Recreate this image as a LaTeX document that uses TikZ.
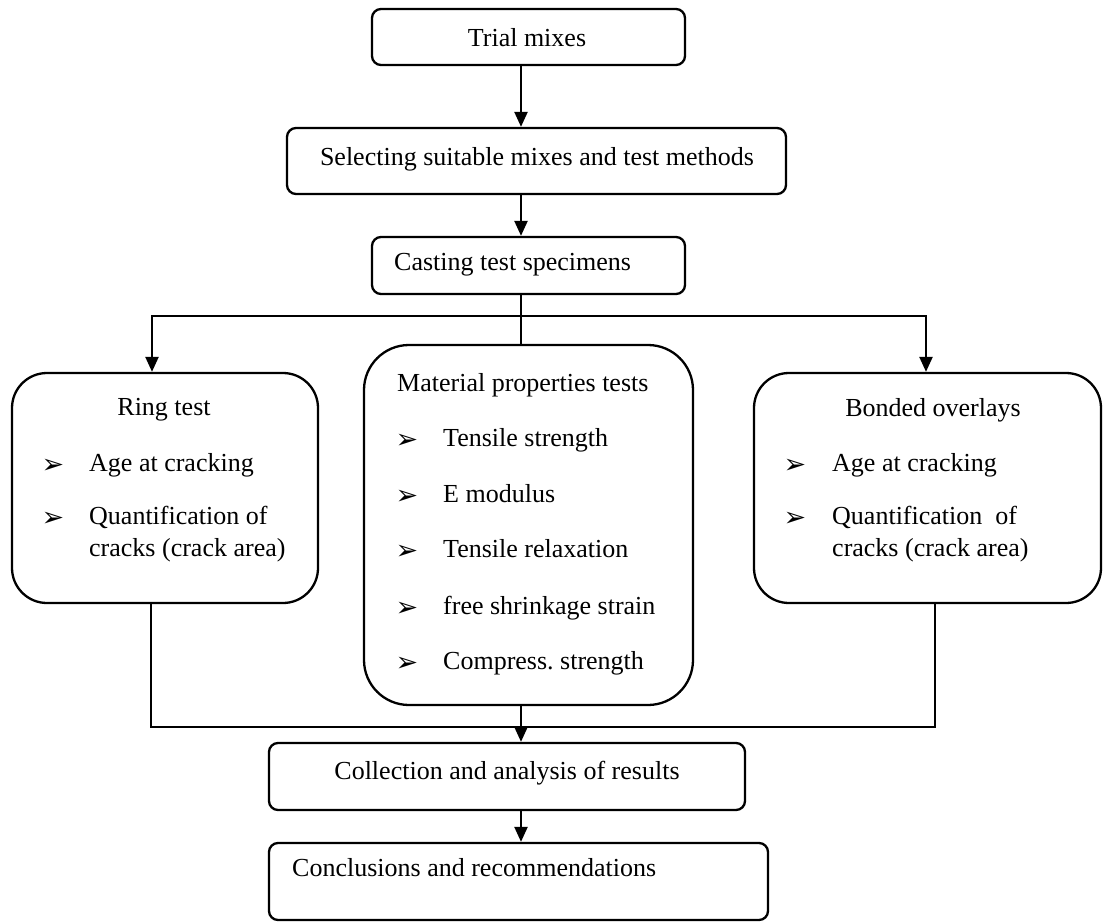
\documentclass[tikz,border=0pt]{standalone}
\usepackage{fontspec}
\setmainfont{Liberation Serif}
\newfontfamily\dejavu{DejaVu Sans}
\usetikzlibrary{arrows.meta}
\begin{document}
\begin{tikzpicture}[x=1pt,y=-1pt,
  box/.style={draw, line width=2.3pt, inner sep=0pt, rounded corners=9pt},
  bigbox/.style={box, rounded corners=#1},
  txt/.style={inner sep=0pt, font=\fontsize{26}{32}\selectfont},
  bul/.style={inner sep=0pt, font=\dejavu\fontsize{27}{28}\selectfont},
  conn/.style={line width=2.3pt},
  arr/.style={conn, -{Triangle[length=15pt,width=13pt]}}]
\useasboundingbox (0,0) rectangle (1104,923);
% boxes
\node[box, minimum width=313pt, minimum height=56pt] (trial) at (528.5,37) {};
\node[box, minimum width=499pt, minimum height=66pt] (select) at (536.5,161) {};
\node[box, minimum width=313pt, minimum height=57pt] (cast) at (528.5,265.5) {};
\node[bigbox=35pt, minimum width=306pt, minimum height=230pt] (ring) at (165,488) {};
\node[bigbox=45pt, minimum width=329pt, minimum height=360pt] (mat) at (528.5,525) {};
\node[bigbox=35pt, minimum width=347pt, minimum height=230pt] (bond) at (927.5,488) {};
\node[box, minimum width=476pt, minimum height=67pt] (coll) at (507,776.5) {};
\node[box, minimum width=499pt, minimum height=77pt] (concl) at (518.5,881.5) {};
% texts
\node[txt] (tTrial) at (527,38) {Trial mixes};
\node[txt] (tSelect) at (537,159) {Selecting suitable mixes and test methods};
\node[txt, anchor=mid west] (tCast) at (394,268) {Casting test specimens};
\node[txt] (tRing) at (164,410) {Ring test};
\node[bul] (rb1) at (53,466) {➢};
\node[txt, anchor=mid west] (r1) at (89,469) {Age at cracking};
\node[bul] (rb2) at (53,519) {➢};
\node[txt, anchor=mid west] (r2) at (89,522) {Quantification of};
\node[txt, anchor=mid west] (r3) at (89,554) {cracks (crack area)};
\node[txt, anchor=mid west] (tMat) at (397,389) {Material properties tests};
\node[bul] (mb1) at (407,441) {➢};
\node[txt, anchor=mid west] (m1) at (443,444) {Tensile strength};
\node[bul] (mb2) at (407,497) {➢};
\node[txt, anchor=mid west] (m2) at (443,500) {E modulus};
\node[bul] (mb3) at (407,552) {➢};
\node[txt, anchor=mid west] (m3) at (443,555) {Tensile relaxation};
\node[bul] (mb4) at (407,609) {➢};
\node[txt, anchor=mid west] (m4) at (443,612) {free shrinkage strain};
\node[bul] (mb5) at (407,664) {➢};
\node[txt, anchor=mid west] (m5) at (443,667) {Compress.\ strength};
\node[txt] (tBond) at (933,410) {Bonded overlays};
\node[bul] (bb1) at (795,466) {➢};
\node[txt, anchor=mid west] (b1) at (832,469) {Age at cracking};
\node[bul] (bb2) at (795,519) {➢};
\node[txt, anchor=mid west] (b2) at (832,522) {Quantification\ \ of};
\node[txt, anchor=mid west] (b3) at (832,554) {cracks (crack area)};
\node[txt] (tColl) at (507,773) {Collection and analysis of results};
\node[txt, anchor=mid west] (tConcl) at (292,874) {Conclusions and recommendations};
% connector coordinates
\coordinate (colx) at (521,0);
\coordinate (jl) at (152,316);
\coordinate (jr) at (926,316);
\coordinate (bl) at (151,727);
\coordinate (br) at (935,727);
% connectors
\draw[arr] (trial.south -| colx) -- (select.north -| colx);
\draw[arr] (select.south -| colx) -- (cast.north -| colx);
\draw[conn] (cast.south -| colx) -- (mat.north -| colx);
\draw[arr] (jr) -- (jl) -- (ring.north -| jl);
\draw[arr] (jl) -- (jr) -- (bond.north -| jr);
\draw[conn] (ring.south -| bl) -- (bl) -- (br) -- (bond.south -| br);
\draw[arr] (mat.south -| colx) -- (coll.north -| colx);
\draw[arr] (coll.south -| colx) -- (concl.north -| colx);
\end{tikzpicture}
\end{document}
